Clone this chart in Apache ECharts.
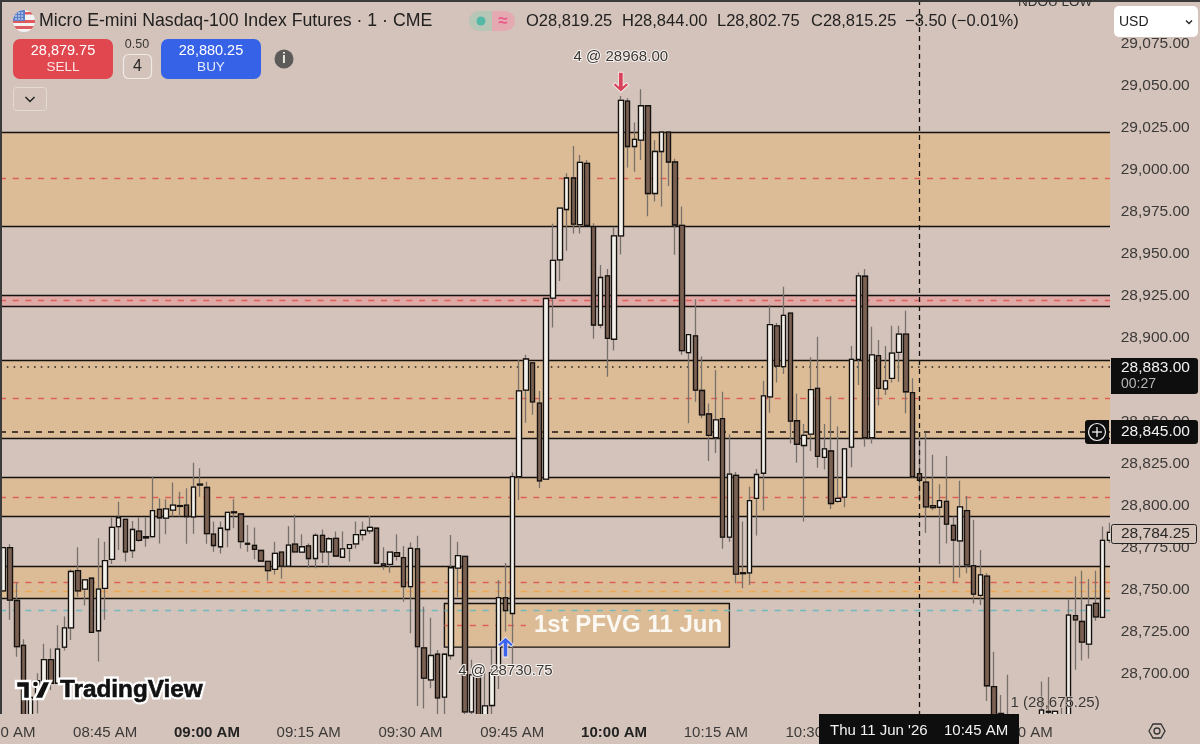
<!DOCTYPE html>
<html><head><meta charset="utf-8">
<style>html,body{margin:0;padding:0;background:#d3c3bb}#c{width:1200px;height:744px}</style>
<script src="https://cdn.jsdelivr.net/npm/echarts@6/dist/echarts.min.js"></script>
</head><body><div id="c"></div>
<script>
const timeLabels=['08:30 AM','08:45 AM','09:00 AM','09:15 AM','09:30 AM','09:45 AM','10:00 AM','10:15 AM','10:30 AM','10:45 AM','11:00 AM'];
const opens=[28749.5,28775.25,28743.75,28717,28670,28687,28696,28708.5,28694.5,28716,
28727.5,28761.5,28750.5,28757,28725.75,28751,28768.25,28787.75,28792,28773.5,
28785,28781.75,28781.75,28798,28792.75,28797.5,28800.25,28800.5,28793.5,28813,
28811,28783.25,28775.75,28786,28796.5,28795.25,28777.75,28776.5,28773.5,28767,
28762.25,28772.5,28764.25,28777.25,28772.5,28776.25,28768.75,28782.5,28772.75,28780.75,
28769.5,28774.75,28777.5,28783,28785.25,28786.75,28765.5,28765.25,28772.25,28769.25,
28752,28774.5,28715.5,28696.5,28711.75,28686.25,28711,28763,28770,28677.5,
28698.5,28670,28681.25,28702,28745.5,28736,28817.5,28869,28885.25,28861.25,
28816,28923.75,28946.5,28976.5,28995.25,28967.5,29004,28966.25,28907.75,28937,
28899.25,28960.75,29041,29014,29017.75,29038.25,28986,29011,29022.5,29004.75,
28967,28891.25,28901.25,28868.75,28854.75,28840.75,28852,28781.5,28818.25,28760.25,
28760.25,28804.5,28819.5,28865,28907.25,28883,28914.75,28850.75,28836,28842.75,
28870,28829,28832.75,28802.75,28805.25,28835,28887.25,28936.75,28840.75,28889.5,
28869.75,28876,28891.5,28902.25,28867.5,28819.25,28814.25,28800.25,28799.25,28802.75,
28788.5,28779.25,28797.25,28764.5,28746.75,28758.25,28692.5,28676.5,28674,28670,
28667,28665,28668,28672,28677.75,28673,28674,28674,28734.75,28731.25,
28717.75,28742,28733.75,28779.5];
const closes=[28775.25,28744,28716.25,28670,28686,28696,28708.5,28694.5,28714.75,28727.5,
28761,28749.5,28756,28724.75,28750.5,28767.5,28787.25,28793,28772.75,28786,
28779.5,28781,28797.25,28793,28798.25,28800.5,28799.75,28793.75,28811.25,28812.5,
28783.5,28776.5,28786.75,28796.25,28796,28778.75,28777.25,28774.25,28767.25,28761.5,
28771.75,28764.25,28776.75,28772.75,28775.75,28768.75,28782.5,28772.75,28780.5,28770.25,
28774.5,28777,28783,28785.5,28787.25,28766,28764.5,28772.5,28770,28752,
28774.75,28716.25,28697.5,28711,28685.75,28711.75,28763.25,28770.5,28677.5,28699.5,
28670,28681,28700.75,28745.5,28737.75,28817.5,28868.5,28887.5,28862,28815,
28923.5,28946.25,28977.25,28995.25,28967.75,29004.5,28967,28907.75,28936,28899.75,
28960.75,29041.5,29014,29018.25,29038.25,28986,29011,29022.5,29004.75,28967.25,
28892.5,28902,28869,28854.25,28842,28851.25,28781.5,28819,28759.5,28759.75,
28803.25,28818.75,28865.5,28908,28883.25,28913.5,28850.5,28836.75,28842,28869.25,
28829.5,28834,28801.5,28804.5,28834,28887.25,28937,28840.75,28890,28870,
28874.5,28891,28902.25,28868,28817.5,28815.25,28799.5,28799,28803.25,28789.25,
28779.75,28799.5,28765,28747.5,28759,28693,28672,28675.75,28670,28667,
28665,28668,28671,28678.5,28677.25,28677.75,28675,28735,28732.25,28719,
28741,28734,28779.5,28784.25];
const lows=[28749.5,28732.25,28710.25,28665,28665,28676.5,28691.5,28690.5,28694.5,28714,
28720.25,28746,28740.75,28724.75,28707.5,28732.25,28765.5,28773.75,28767,28769,
28778.75,28775.75,28781.25,28777.75,28783.25,28793.75,28793.75,28777.5,28783.5,28805.5,
28777.5,28772.75,28771.75,28775.5,28786.75,28774.75,28772.75,28768.25,28767,28755.5,
28759.25,28756.75,28764.25,28772.75,28772.25,28763,28763,28766,28764,28770.25,
28769.5,28767,28774.75,28779.5,28783.5,28766,28762,28760.25,28767.5,28743,
28724.25,28681,28679.5,28691.5,28672,28672,28708.5,28746,28674,28672,
28668,28668,28674,28691,28725.25,28706,28803.5,28849.5,28854.25,28810.75,
28816,28906.25,28934,28952,28962.25,28962.25,28967,28899.5,28905.75,28877,
28892.5,28949.75,29001.5,28999,29006,28972.5,28981.25,28978.25,28990.5,28949.5,
28890,28849.25,28862,28852.25,28826.75,28831.5,28774.5,28778.75,28754,28751,
28753,28782.5,28797.25,28855.5,28873.5,28878.5,28837.25,28825.75,28790.75,28832.75,
28822.75,28821.75,28798.25,28802,28799.25,28823,28872,28835.25,28837.25,28859.75,
28866,28873.5,28874,28855.25,28816.5,28802.75,28784,28797.5,28765.5,28777.75,
28754.5,28757.5,28760,28742,28741,28684,28668,28672,28666,28663,
28660,28662,28665,28670,28672,28671,28672,28670,28702.5,28708,
28709.25,28731.75,28733.75,28778];
const highs=[28775.75,28777.25,28754.5,28720.75,28686.25,28700.5,28718,28715.25,28729,28734.25,
28762.25,28775.5,28756.5,28757.5,28780.75,28778.75,28793.25,28802.5,28792.25,28791,
28793.25,28793.25,28817.5,28804.5,28804,28814,28808.5,28810.5,28825.75,28822.5,
28814.5,28790.75,28790.75,28796.5,28804,28795.5,28788.75,28787.25,28773.75,28767.25,
28778.75,28772.75,28788,28795,28783.25,28777.75,28783.75,28786,28781.5,28784.75,
28784.75,28777.25,28790.75,28790.75,28794,28787,28775.5,28772.75,28783.25,28776.25,
28778.25,28782.25,28740,28733.5,28714.25,28712,28782.75,28778.75,28770.25,28708.5,
28699,28702,28715.25,28756,28766,28820,28887,28890,28885.5,28868.5,
28924,28968,28977.5,28998,29014.25,29009,29006,28968.25,28943.5,28941,
28966.25,29044,29042.75,29028.25,29048,29038.5,29017.75,29022.75,29022.75,29006.75,
28978.25,28902.25,28923,28889,28861,28881,28868,28842.75,28820.25,28790.75,
28811.5,28822,28874.5,28919.75,28909,28930.5,28915,28867,28848.75,28888.5,
28900.75,28848.75,28865.5,28847.25,28834.25,28895.25,28939,28941,28906.75,28898.75,
28895.25,28907.25,28907.25,28916.25,28876,28844,28843.25,28830.5,28813,28829.75,
28793.75,28815,28806,28791.75,28773.75,28760,28713.25,28687.5,28699.5,28673,
28672,28672,28674,28695.5,28698.25,28678,28680,28744.75,28758,28761.5,
28756.5,28761.5,28787.75,28790];
// zones: [upper price, lower price]
const sandZones=[[29022.75,28966.5],[28887,28840.5],[28817,28794],[28764.25,28745]];
const pinkZones=[[28925.5,28919]];
const redLevels=[28995,28922.25,28864,28805.5,28754.75];
const orangeLevels=[28749.5];
const cyanLevels=[28738];
const dottedLevels=[28883];
const crossPrice=28844, crossIndex=135;
const pfvgBox={from:65,to:107,top:28742,bottom:28716,mid:28729,midEnd:77,text:'1st PFVG 11 Jun'};

const BG='#d3c3bb',SAND='#dcbc96',PINK='#dfa9a6',BLK='#14110f',F='"Liberation Sans",Arial,sans-serif';
const candles=opens.map((o,i)=>[o,closes[i],lows[i],highs[i]]);
const bodies=opens.map((o,i)=>[o,closes[i],Math.min(o,closes[i]),Math.max(o,closes[i])]);
const categories=opens.map((_,i)=>i%15===0&&timeLabels[i/15]?timeLabels[i/15]:'');
const hLine=(v,c,t,w)=>({yAxis:v,lineStyle:{color:c,type:t,width:w||1}});
const zoneArea=(z,c)=>[{yAxis:z[0],itemStyle:{color:c,opacity:1}},{yAxis:z[1]}];
const zoneEdges=[...sandZones,...pinkZones].flat().map(v=>hLine(v,BLK,'solid',1.4));
const RED_DASH=[6,6.7];

const txt=(x,y,t,size,color,extra)=>({type:'text',z:30,x,y,style:Object.assign({text:t,fontSize:size,fill:color,fontFamily:F,textVerticalAlign:'middle'},extra||{})});
const rect=(x,y,w,h,fill,r,extra)=>({type:'rect',z:(extra&&extra.z)||30,shape:{x,y,width:w,height:h,r:r||0},style:Object.assign({fill},extra&&extra.style||{})});
const flag='data:image/svg+xml;utf8,'+encodeURIComponent('<svg xmlns="http://www.w3.org/2000/svg" width="44" height="44" viewBox="0 0 22 22"><defs><clipPath id="a"><circle cx="11" cy="11" r="11"/></clipPath></defs><g clip-path="url(#a)"><rect width="22" height="22" fill="#f3f3f3"/><rect y="10" width="22" height="3" fill="#e0595e"/><rect y="16" width="22" height="3" fill="#e0595e"/><rect y="2" width="22" height="2.5" fill="#e0595e"/><rect width="12" height="11" fill="#5b7fc9"/><g fill="#fff"><circle cx="3" cy="3" r=".8"/><circle cx="6" cy="3" r=".8"/><circle cx="9" cy="3" r=".8"/><circle cx="3" cy="6" r=".8"/><circle cx="6" cy="6" r=".8"/><circle cx="9" cy="6" r=".8"/><circle cx="3" cy="9" r=".8"/><circle cx="6" cy="9" r=".8"/><circle cx="9" cy="9" r=".8"/></g></g></svg>');

const chart=echarts.init(document.getElementById('c'),null,{renderer:'canvas'});
chart.setOption({
 animation:false,backgroundColor:BG,
 grid:{left:0,top:2,width:1112.74,height:714,containLabel:false,outerBoundsMode:'none'},
 xAxis:{type:'category',data:categories,boundaryGap:true,z:10,axisLine:{show:false},axisTick:{show:false},splitLine:{show:false},
  axisLabel:{interval:14,margin:9,hideOverlap:false,showMinLabel:true,fontFamily:F,fontSize:15,color:'#3c3a38',
   formatter:v=>(v==='09:00 AM'||v==='10:00 AM')?'{b|'+v+'}':v,rich:{b:{fontWeight:'bold',fontSize:15,fontFamily:F,color:'#222'}}}},
 yAxis:{type:'value',position:'right',min:28675,max:29100,interval:25,scale:true,z:10,axisLine:{show:false},axisTick:{show:false},splitLine:{show:false},
  axisLabel:{margin:8,padding:[3,0,0,0],fontFamily:F,fontSize:15.5,color:'#3c3a38',
   formatter:v=>(v>=29100||v<=28675)?'':v.toLocaleString('en-US',{minimumFractionDigits:2,maximumFractionDigits:2})}},
 series:[
  {name:'wicks',type:'candlestick',data:candles,barWidth:5,z:3,silent:true,
   itemStyle:{color:'rgba(0,0,0,0)',color0:'rgba(0,0,0,0)',borderColor:'#78706b',borderColor0:'#78706b',borderColorDoji:'#78706b',borderWidth:1.3},
   markArea:{silent:true,z:1,data:[
     ...sandZones.map(z=>zoneArea(z,SAND)),
     ...pinkZones.map(z=>zoneArea(z,PINK)),
     [{xAxis:pfvgBox.from,yAxis:pfvgBox.top,itemStyle:{color:SAND,opacity:1,borderColor:BLK,borderWidth:1.4},
       label:{show:true,position:'insideRight',distance:8,formatter:pfvgBox.text,color:'#fbf8f2',fontFamily:F,fontWeight:'bold',fontSize:24}},
      {xAxis:pfvgBox.to,yAxis:pfvgBox.bottom}]
   ]},
   markLine:{silent:true,z:1,symbol:'none',label:{show:false},data:[
     ...zoneEdges,
     ...redLevels.map(v=>hLine(v,'#de5f57',RED_DASH,1.4)),
     ...orangeLevels.map(v=>hLine(v,'#eea650',RED_DASH,1.4)),
     ...cyanLevels.map(v=>hLine(v,'#70b9bd',RED_DASH,1.3)),
     ...dottedLevels.map(v=>hLine(v,'#2a2420',[1.6,5.2],1.6)),
     [{xAxis:pfvgBox.from,yAxis:pfvgBox.mid,lineStyle:{color:'#de5f57',type:RED_DASH,width:1.4}},{xAxis:pfvgBox.midEnd,yAxis:pfvgBox.mid}],
     hLine(crossPrice,'#2a2018',[6,6],1.6)
   ]}},
  {name:'bodies',type:'candlestick',data:bodies,barWidth:5,z:4,silent:true,
   itemStyle:{color:'#f4f0ea',color0:'#7b6152',borderColor:BLK,borderColor0:BLK,borderColorDoji:BLK,borderWidth:1.3},
   markLine:{silent:true,z:6,symbol:'none',label:{show:false},data:[{xAxis:crossIndex,lineStyle:{color:'#14110f',type:[5,4],width:1.3}}]},
   markPoint:{silent:true,z:7,data:[
     {coord:[91,29067.25],symbol:'circle',symbolSize:0,label:{show:true,position:'inside',formatter:'4 @ 28968.00',fontFamily:F,fontSize:15,color:'#3a3634',textBorderColor:'#f6f2ee',textBorderWidth:2}},
     {coord:[74,28701.75],symbol:'circle',symbolSize:0,label:{show:true,position:'inside',formatter:'4 @ 28730.75',fontFamily:F,fontSize:15,color:'#3a3634',textBorderColor:'#f6f2ee',textBorderWidth:2}},
     {coord:[155,28682.75],symbol:'circle',symbolSize:0,label:{show:true,position:'inside',formatter:'1 (28,675.25)',fontFamily:F,fontSize:15,color:'#3a3634',textBorderColor:'#d8cac2',textBorderWidth:1}},
     {coord:[91,29052.25],symbol:'path://M5 0H9V13.5L11.8 10.5L14 12.5L7 20L0 12.5L2.2 10.5L5 13.5Z',symbolSize:[16,20],itemStyle:{color:'#d9405a',borderColor:'#f1e6e0',borderWidth:1},label:{show:false}},
     {coord:[74,28716],symbol:'path://M7 0L14 7.5L11.8 9.5L9 6.5V20H5V6.5L2.2 9.5L0 7.5Z',symbolSize:[16,20],itemStyle:{color:'#3a63ee',borderColor:'#f1e6e0',borderWidth:1},label:{show:false}}
   ]}}
 ],
 graphic:{elements:[
  rect(1110,0,90,744,BG,0,{z:8}),
  rect(0,714,1200,30,BG,0,{z:8}),
  rect(0,0,1200,2,'#3a3a3a',0,{z:9}),
  rect(0,0,2,714,'#3a3a3a',0,{z:9}),
  // header
  {type:'image',z:30,style:{image:flag,x:13,y:10,width:22,height:22}},
  txt(39,21,'Micro E-mini Nasdaq-100 Index Futures · 1 · CME',17.7,'#232120'),
  {type:'rect',z:30,shape:{x:469,y:11,width:46,height:20,r:10},style:{fill:'#e5a9b1'}},
  {type:'rect',z:30,shape:{x:469,y:11,width:23,height:20,r:[10,0,0,10]},style:{fill:'#b6c7b8'}},
  {type:'circle',z:31,shape:{cx:481,cy:21,r:4.5},style:{fill:'#53b8a5'}},
  Object.assign(txt(503,21,'≈',17,'#e8598a',{textAlign:'center',fontWeight:'bold'}),{z:31}),
  txt(526,21,'O28,819.25',16.5,'#232120'),
  txt(622,21,'H28,844.00',16.5,'#232120'),
  txt(717,21,'L28,802.75',16.5,'#232120'),
  txt(811,21,'C28,815.25',16.5,'#232120'),
  txt(905,21,'−3.50 (−0.01%)',16.5,'#232120'),
  // order panel
  rect(13,39,100,40,'#e0474f',7),
  txt(63,51,'28,879.75',14.5,'#fff',{textAlign:'center'}),
  txt(63,67,'SELL',13.5,'#fbe6e6',{textAlign:'center'}),
  txt(137,45,'0.50',12.5,'#3a3634',{textAlign:'center'}),
  {type:'rect',z:30,shape:{x:123.5,y:54.5,width:28,height:24,r:5},style:{fill:'#d3c3bb',stroke:'#f0e9e4',lineWidth:1.2}},
  txt(137.5,67,'4',16,'#2b2928',{textAlign:'center'}),
  rect(161,39,100,40,'#3662e8',7),
  txt(211,51,'28,880.25',14.5,'#fff',{textAlign:'center'}),
  txt(211,67,'BUY',13.5,'#e6ecfd',{textAlign:'center'}),
  {type:'circle',z:30,shape:{cx:284,cy:59,r:9.5},style:{fill:'#5d5b5a'}},
  Object.assign(txt(284,59.5,'i',14,'#efe9e4',{textAlign:'center',fontWeight:'bold'}),{z:31}),
  {type:'rect',z:30,shape:{x:13.5,y:87.5,width:33,height:23,r:3},style:{fill:'#d3c3bb',stroke:'#e4dad4',lineWidth:1}},
  {type:'polyline',z:31,shape:{points:[[25.5,97],[30,101.5],[34.5,97]]},style:{stroke:'#222',fill:null,lineWidth:1.5}},
  // USD select & clipped study label
  txt(1018,2,'NDOU LOW',13.5,'#333'),
  {type:'rect',z:30,shape:{x:1114,y:6,width:84,height:31,r:5},style:{fill:'#fff'}},
  Object.assign(txt(1119,22,'USD',14,'#222'),{z:31}),
  {type:'polyline',z:31,shape:{points:[[1186,20.5],[1189,23.5],[1192,20.5]]},style:{stroke:'#222',fill:null,lineWidth:1.3}},
  // price tags
  {type:'rect',z:30,shape:{x:1111,y:358,width:87,height:36,r:[0,3,3,0]},style:{fill:'#0e0e0e'}},
  Object.assign(txt(1121,368,'28,883.00',15.5,'#f2f2f2'),{z:31}),
  Object.assign(txt(1121,384,'00:27',14,'#b5b5b5'),{z:31}),
  {type:'rect',z:30,shape:{x:1111,y:420,width:87,height:24,r:[0,3,3,0]},style:{fill:'#0e0e0e'}},
  Object.assign(txt(1121,432,'28,845.00',15.5,'#f2f2f2'),{z:31}),
  {type:'rect',z:30,shape:{x:1085,y:420,width:24,height:24,r:[3,0,0,3]},style:{fill:'#0e0e0e'}},
  {type:'circle',z:31,shape:{cx:1097,cy:432,r:8.5},style:{fill:'none',stroke:'#f2f2f2',lineWidth:1.2}},
  {type:'line',z:31,shape:{x1:1092,y1:432,x2:1102,y2:432},style:{stroke:'#f2f2f2',lineWidth:1.3}},
  {type:'line',z:31,shape:{x1:1097,y1:427,x2:1097,y2:437},style:{stroke:'#f2f2f2',lineWidth:1.3}},
  {type:'rect',z:30,shape:{x:1111.5,y:524.5,width:85,height:19,r:2},style:{fill:BG,stroke:'#222',lineWidth:1}},
  Object.assign(txt(1121,534,'28,784.25',15.5,'#2a2826'),{z:31}),
  // crosshair time tag
  rect(819,714,200,30,'#0e0e0e',0),
  Object.assign(txt(830,731,"Thu 11 Jun '26",15,'#f2f2f2'),{z:31}),
  Object.assign(txt(944,731,'10:45 AM',15,'#f2f2f2'),{z:31}),
  // settings icon
  {type:'polygon',z:30,shape:{points:[[1149,731],[1153,724],[1161,724],[1165,731],[1161,738],[1153,738]]},style:{fill:'none',stroke:'#333',lineWidth:1.3}},
  {type:'circle',z:30,shape:{cx:1157,cy:731,r:3},style:{fill:'none',stroke:'#333',lineWidth:1.3}},
  // logo
  {type:'polygon',z:30,shape:{points:[[16,681],[30,681],[30,699],[23,699],[23,688],[16,688]]},style:{fill:'#111',stroke:'#fff',lineWidth:2.5}},
  {type:'circle',z:30,shape:{cx:35.5,cy:684,r:3.2},style:{fill:'#111',stroke:'#fff',lineWidth:1.8}},
  {type:'polygon',z:30,shape:{points:[[43,681],[51,681],[43,699],[34,699]]},style:{fill:'#111',stroke:'#fff',lineWidth:2.5}},
  txt(60,690,'TradingView',24.3,'#fff',{fontWeight:'bold',stroke:'#fff',lineWidth:5}),
  Object.assign(txt(60,690,'TradingView',24.3,'#111',{fontWeight:'bold',stroke:'#111',lineWidth:0.6}),{z:31})
 ]}
});
</script></body></html>
